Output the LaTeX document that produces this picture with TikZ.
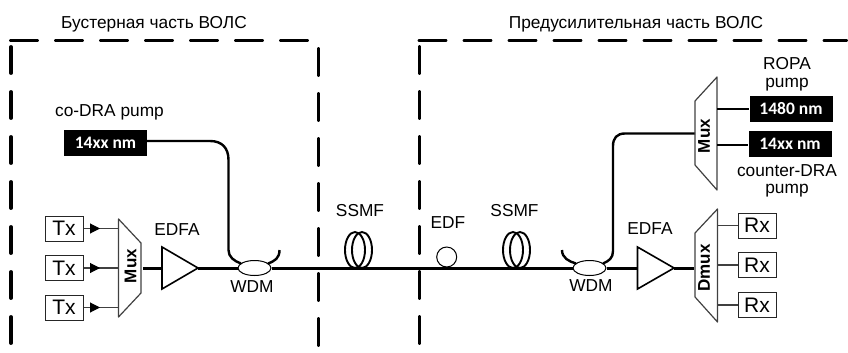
\documentclass[tikz,border=0pt]{standalone}
\usepackage{fontspec}
\setmainfont{Liberation Sans}
\newfontfamily\calib{Carlito}
\usetikzlibrary{arrows.meta,shapes.geometric}
\tikzset{
  x=1pt,y=-1pt,
  lab/.style={inner sep=0pt,font=\fontsize{17.3}{19}\selectfont},
  eqbox/.style={draw=black!85,line width=1pt,minimum width=38pt,minimum height=25pt,inner sep=0pt,font=\fontsize{21}{23}\selectfont},
  pumpbox/.style={fill=black,text=white,minimum width=83pt,minimum height=26pt,inner sep=0pt,font=\calib\bfseries\fontsize{17.5}{19}\selectfont},
  muxlab/.style={inner sep=0pt,rotate=90,font=\bfseries\fontsize{17}{19}\selectfont},
  frame/.style={line width=3.9pt,line cap=round,dash pattern=on 26pt off 19pt},
  fibre/.style={line width=3pt},
  pumpline/.style={line width=2.4pt},
  muxshape/.style={draw=black!75,line width=1.2pt,line join=round},
  amp/.style={draw=black,line width=1.6pt,line join=miter},
  thinline/.style={draw=black!75,line width=1.1pt},
  coil/.style={draw=black,line width=1.9pt},
  coupler/.style={draw=black,line width=1pt,fill=white,ellipse,minimum width=33pt,minimum height=15pt,inner sep=0pt},
}
\begin{document}
\begin{tikzpicture}
\useasboundingbox (0,0) rectangle (848,353);
% frames
\coordinate (fa) at (11,40.5); \coordinate (fb) at (318.5,40.5);
\coordinate (fc) at (11,343); \coordinate (fd) at (318.5,345);
\coordinate (ga) at (419.5,40.5); \coordinate (gb) at (846,40.5);
\coordinate (gc) at (419.5,343);
\draw[frame] (fa) -- (fb);
\draw[frame] (fc) -- (fa);
\draw[frame] (fd) -- (fb);
\draw[frame] (ga) -- (gb);
\draw[frame] (gc) -- (ga);
% titles
\node[lab] (t1) at (154,24) {Бустерная часть ВОЛС};
\node[lab] (t2) at (636,24) {Предусилительная часть ВОЛС};
% Tx
\node[eqbox] (tx1) at (64,228.5) {Tx};
\node[eqbox] (tx2) at (64,268) {Tx};
\node[eqbox] (tx3) at (64,307.5) {Tx};
% Mux left
\coordinate (ma) at (118.5,219); \coordinate (mb) at (141,243);
\coordinate (mc) at (141,293); \coordinate (md) at (118.5,317);
\coordinate (mi1) at (118.5,228.5); \coordinate (mi2) at (118.5,268); \coordinate (mi3) at (118.5,307.5);
\coordinate (mo) at (143,268);
\coordinate (a1) at (100,228.5); \coordinate (a2) at (100,268); \coordinate (a3) at (100,307.5);
\foreach \i in {1,2,3}{
  \draw[thinline] (tx\i.east) -- (mi\i);
  \draw[thinline,-{Triangle[length=10pt,width=10pt,black]}] (tx\i.east) -- (a\i);
}
\draw[muxshape] (ma) -- (mb) -- (mc) -- (md) -- cycle;
\node[muxlab] (mlab) at (130.5,266) {Mux};
% EDFA left
\coordinate (e1a) at (162,247); \coordinate (e1b) at (162,289); \coordinate (e1c) at (198,268); \coordinate (e1i) at (162,268);
\draw[amp] (e1a) -- (e1c) -- (e1b) -- cycle;
\node[lab] (e1l) at (177,230) {EDFA};
\draw[fibre] (mo) -- (e1i);
% right group coordinates
\coordinate (e2a) at (637.5,247); \coordinate (e2b) at (637.5,289); \coordinate (e2c) at (674,268); \coordinate (e2i) at (637.5,268);
\coordinate (do) at (693.5,268);
% couplers
\node[coupler] (w1) at (254.5,268) {};
\node[coupler] (w2) at (589.5,268) {};
\draw[fibre] (e1c) -- (w1.west);
\draw[fibre] (w1.east) -- (w2.west);
\draw[fibre] (w2.east) -- (e2i);
\draw[fibre] (e2c) -- (do);
\draw[amp] (e2a) -- (e2c) -- (e2b) -- cycle;
\node[lab] (e2l) at (650,229) {EDFA};
\node[lab] (w1l) at (252,287) {WDM};
\node[lab] (w2l) at (591,286) {WDM};
% co-DRA pump
\node[pumpbox] (p1) at (105.5,142.5) {14xx nm};
\node[lab] (p1l) at (109.5,112) {co-DRA pump};
\draw[pumpline] (p1.east |- 0,141) -- (210,141) .. controls (222,141) and (228.5,148) .. (228.5,160) -- (228.5,250) .. controls (228.5,257) and (234,261) .. (241,263.5);
\coordinate (w1r) at (268,263.5); \coordinate (w1e) at (279.5,250);
\draw[pumpline] (w1r) .. controls (275,261) and (279.5,258) .. (w1e);
% right WDM
\coordinate (w2l1) at (576,263.5); \coordinate (w2l2) at (562,250);
\draw[pumpline] (w2l1) .. controls (569,261.5) and (562,258) .. (w2l2);
\coordinate (um) at (695,133.5);
\draw[pumpline] (603,263.5) .. controls (609,261) and (613,258) .. (613,251) -- (613,146) .. controls (613,138) and (617,133.5) .. (625,133.5) -- (um);
% upper mux
\coordinate (ua) at (717,77); \coordinate (ub) at (695,101); \coordinate (uc) at (695,165); \coordinate (ud) at (717,190);
\draw[muxshape] (ua) -- (ub) -- (uc) -- (ud) -- cycle;
\node[muxlab] (ulab) at (704,136) {Mux};
\node[pumpbox] (p2) at (791,109) {1480 nm};
\node[pumpbox] (p3) at (790,144) {14xx nm};
\coordinate (u1) at (717,108.7); \coordinate (u2) at (717,144.7);
\draw[pumpline,line width=1.8pt] (u1) -- (p2.west |- u1);
\draw[pumpline,line width=1.8pt] (u2) -- (p3.west |- u2);
\node[lab] (r1) at (787,64) {ROPA};
\node[lab] (r2) at (787,85) {pump};
\node[lab] (c1) at (787,171) {counter-DRA};
\node[lab] (c2) at (787,191) {pump};
% Dmux
\coordinate (da) at (717.5,209); \coordinate (db) at (695,233); \coordinate (dc) at (695,297); \coordinate (dd) at (717.5,322);
\draw[muxshape] (da) -- (db) -- (dc) -- (dd) -- cycle;
\node[muxlab] (dlab) at (704,268) {Dmux};
\node[eqbox] (rx1) at (757,225.5) {Rx};
\node[eqbox] (rx2) at (757,265) {Rx};
\node[eqbox] (rx3) at (757,305) {Rx};
\foreach \i in {1,2,3}{
  \draw[thinline] (rx\i.west) -- (717.5,0 |- rx\i.west);
}
% fibre coils
\coordinate (s1) at (355,250); \coordinate (s2) at (362,250);
\coordinate (s3) at (513,250); \coordinate (s4) at (520,250);
\foreach \c in {s1,s2,s3,s4}{
  \draw[coil] (\c) ellipse [x radius=10,y radius=18];
}
\draw[fibre] (w1.east) -- (w2.west);
\node[lab] (sl1) at (360,211) {SSMF};
\node[lab] (sl2) at (514.5,211) {SSMF};
\node[draw=black,line width=1pt,circle,minimum size=20pt,inner sep=0pt] (edf) at (446.7,257) {};
\node[lab] (edfl) at (448,223) {EDF};
\end{tikzpicture}
\end{document}
